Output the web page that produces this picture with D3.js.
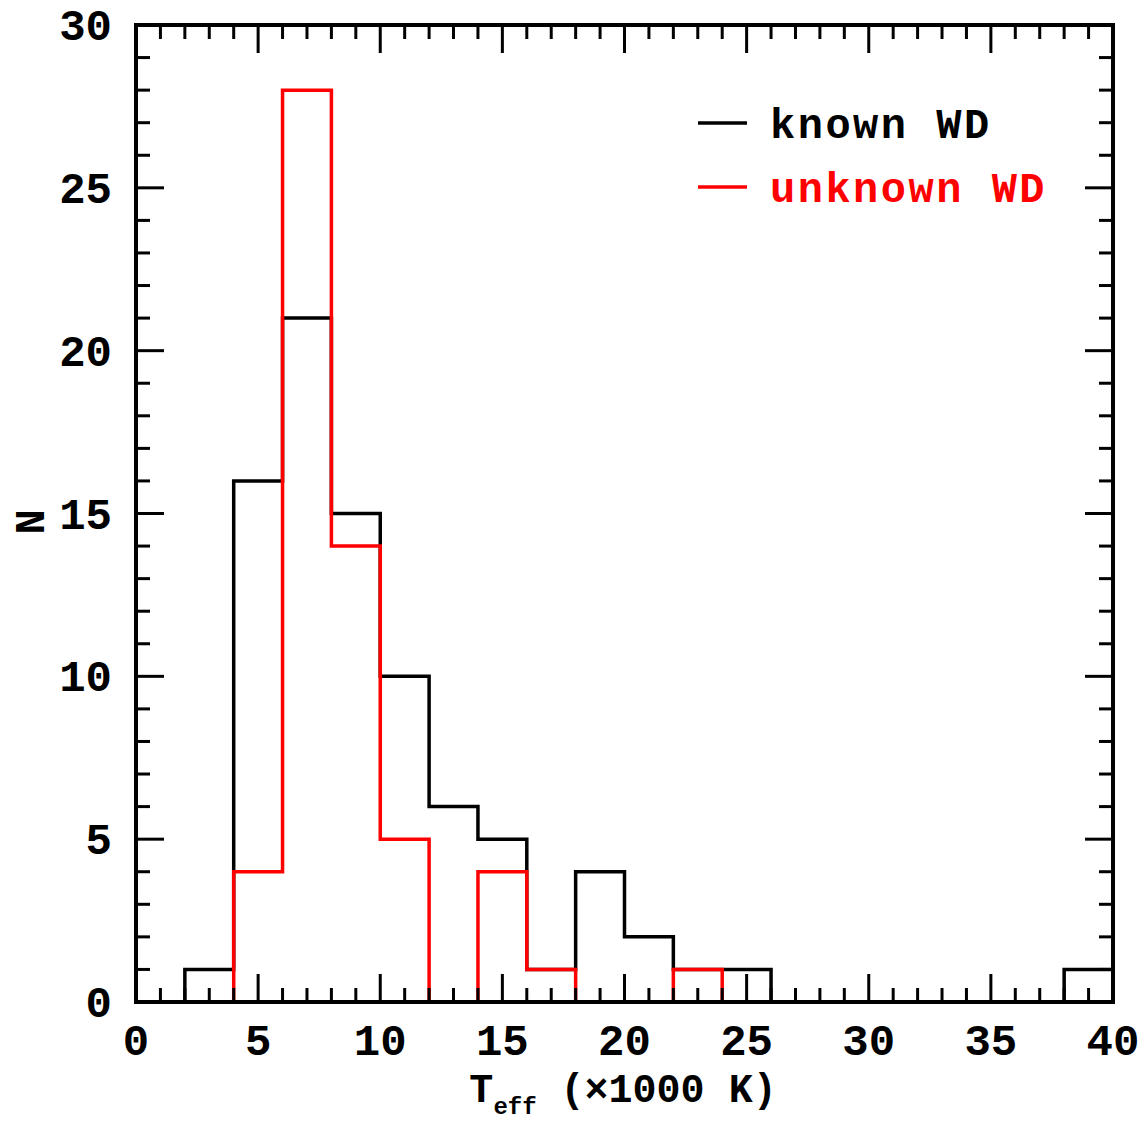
<!DOCTYPE html>
<html><head><meta charset="utf-8">
<script src="https://cdn.jsdelivr.net/npm/d3@7"></script>
<style>body{margin:0;background:#fff}svg{display:block}text{font-family:"Liberation Mono",monospace;font-weight:bold}</style>
</head><body>
<script>
const binStarts=[0,2,4,6,8,10,12,14,16,18,20,22,24,26,28,30,32,34,36,38];
const binWidth=2;
const knownWD=[0,1,16,21,15,10,6,5,1,4,2,1,1,0,0,0,0,0,0,1];
const unknownWD=[0,0,4,28,14,5,0,4,1,0,0,1,0,0,0,0,0,0,0,0];
const xTicks=[0,5,10,15,20,25,30,35,40];
const yTicks=[0,5,10,15,20,25,30];
const seriesNames=["known WD","unknown WD"];
const seriesColors=["#000000","#ff0000"];

const W=1142,H=1122,L=136,R=1113,T=25,B=1002;
const svg=d3.select("body").append("svg").attr("width",W).attr("height",H);
const x=d3.scaleLinear().domain([0,40]).range([L,R]);
const y=d3.scaleLinear().domain([0,30]).range([B,T]);

const line=d3.line().x(d=>x(d[0])).y(d=>y(d[1])).curve(d3.curveStepAfter);
function pts(vals){const p=binStarts.map((s,i)=>[s,vals[i]]);p.push([binStarts[binStarts.length-1]+binWidth,vals[vals.length-1]]);return [[0,0]].concat(p);}
[knownWD,unknownWD].forEach((v,i)=>{
  svg.append("path").attr("d",line(pts(v))).attr("fill","none").attr("stroke",seriesColors[i]).attr("stroke-width",3.5).attr("stroke-linejoin","miter");
});

// ticks
const g=svg.append("g").attr("stroke","#000").attr("stroke-width",3);
d3.range(0,41,1).forEach(v=>{
  const len=v%5===0?28:14;
  g.append("line").attr("x1",x(v)).attr("x2",x(v)).attr("y1",B).attr("y2",B-len);
  g.append("line").attr("x1",x(v)).attr("x2",x(v)).attr("y1",T).attr("y2",T+len);
});
d3.range(0,31,1).forEach(v=>{
  const len=v%5===0?28:14;
  g.append("line").attr("y1",y(v)).attr("y2",y(v)).attr("x1",L).attr("x2",L+len);
  g.append("line").attr("y1",y(v)).attr("y2",y(v)).attr("x1",R).attr("x2",R-len);
});
svg.append("rect").attr("x",L).attr("y",T).attr("width",R-L).attr("height",B-T).attr("fill","none").attr("stroke","#000").attr("stroke-width",4);

// tick labels
xTicks.forEach(v=>svg.append("text").attr("x",x(v)).attr("y",1055).attr("text-anchor","middle").attr("font-size",44).text(v));
yTicks.forEach(v=>svg.append("text").attr("x",112).attr("y",y(v)+15).attr("text-anchor","end").attr("font-size",44).text(v));

// axis titles
const xt=svg.append("text").attr("x",623).attr("y",1102).attr("text-anchor","middle").attr("font-size",40);
xt.append("tspan").text("T");
xt.append("tspan").attr("font-size",24).attr("dy",12).text("eff");
xt.append("tspan").attr("dy",-12).text(" (×1000 K)");
svg.append("text").attr("transform","translate(44,522) rotate(-90)").attr("text-anchor","middle").attr("font-size",42).text("N");

// legend
seriesNames.forEach((n,i)=>{
  const yy=123+i*64;
  svg.append("line").attr("x1",698).attr("x2",747).attr("y1",yy).attr("y2",yy).attr("stroke",seriesColors[i]).attr("stroke-width",3.5);
  svg.append("text").attr("x",770).attr("y",yy+15).attr("font-size",42).attr("letter-spacing",2.5).attr("fill",seriesColors[i]).text(n);
});
</script>
</body></html>
